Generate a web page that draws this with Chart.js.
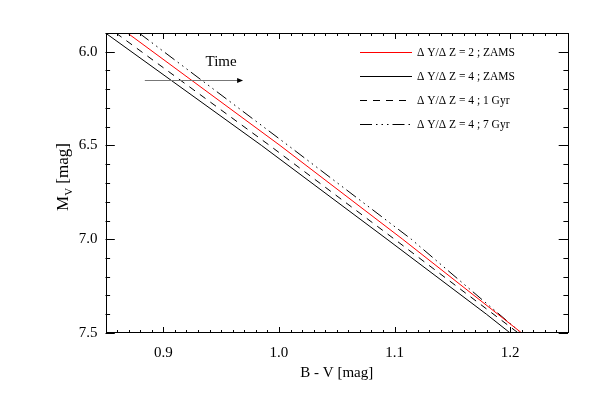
<!DOCTYPE html>
<html><head><meta charset="utf-8">
<script src="https://cdn.jsdelivr.net/npm/chart.js@4"></script>
<style>html,body{margin:0;padding:0;background:#fff;}</style>
</head><body>
<canvas id="c" width="600" height="400"></canvas>
<script>
const xTicks = [0.9, 1.0, 1.1, 1.2];
const yTicks = [6.0, 6.5, 7.0, 7.5];
const seriesLabels = ['\u0394 Y/\u0394 Z = 2 ; ZAMS', '\u0394 Y/\u0394 Z = 4 ; ZAMS', '\u0394 Y/\u0394 Z = 4 ; 1 Gyr', '\u0394 Y/\u0394 Z = 4 ; 7 Gyr'];
const mvZams2 = [5.90, 6.50, 7.00, 7.50];
const bvZams2 = [0.869, 1.001, 1.107, 1.210];
const mvZams4 = [5.90, 6.50, 7.00, 7.40, 7.50];
const bvZams4 = [0.850, 0.985, 1.0935, 1.1795, 1.200];
const mv1Gyr = [5.90, 6.50, 7.00, 7.50];
const bv1Gyr = [0.859, 0.992, 1.100, 1.207];
const mv7Gyr = [5.90, 6.50, 7.00, 7.50];
const bv7Gyr = [0.879, 1.008, 1.1145, 1.2095];
const arrowBV = [0.884, 0.969];
const arrowMV = 6.151;
const timeLabel = 'Time';
const timePos = [0.95, 6.055];

const SERIF = '"Liberation Serif", "DejaVu Serif", "Times New Roman", serif';
const pts = (xs, ys) => xs.map((x, i) => ({x: x, y: ys[i]}));

const datasets = [
  {label: seriesLabels[0], data: pts(bvZams2, mvZams2), borderColor: '#ff0000', borderDash: []},
  {label: seriesLabels[1], data: pts(bvZams4, mvZams4), borderColor: '#000000', borderDash: []},
  {label: seriesLabels[2], data: pts(bv1Gyr, mv1Gyr), borderColor: '#000000', borderDash: [7, 6]},
  {label: seriesLabels[3], data: pts(bv7Gyr, mv7Gyr), borderColor: '#000000', borderDash: [12, 4, 1.5, 4, 1.5, 4, 1.5, 4]}
].map(d => Object.assign(d, {showLine: true, pointRadius: 0, borderWidth: 1, fill: false, tension: 0}));

const decor = {
  id: 'decor',
  afterDatasetsDraw(chart) {
    const ctx = chart.ctx, a = chart.chartArea;
    const xs = chart.scales.x, ys = chart.scales.y;
    ctx.save();
    // frame
    ctx.strokeStyle = '#000'; ctx.lineWidth = 1; ctx.setLineDash([]);
    ctx.strokeRect(Math.round(a.left) + 0.5, Math.round(a.top) + 0.5, Math.round(a.right - a.left) - 1, Math.round(a.bottom - a.top) - 1);
    // ticks
    ctx.beginPath();
    for (let k = 85; k <= 125; k++) {
      const v = k / 100;
      const major = k % 10 === 0;
      const L = major ? 6 : 3;
      const px = Math.round(xs.getPixelForValue(v)) + 0.5;
      ctx.moveTo(px, a.bottom); ctx.lineTo(px, a.bottom - L);
      ctx.moveTo(px, a.top); ctx.lineTo(px, a.top + L);
    }
    for (let k = 59; k <= 75; k++) {
      const v = k / 10;
      const major = k % 5 === 0;
      const L = major ? 9.3 : 4.6;
      const py = Math.round(ys.getPixelForValue(v)) + 0.5;
      ctx.moveTo(a.left, py); ctx.lineTo(a.left + L, py);
      ctx.moveTo(a.right, py); ctx.lineTo(a.right - L, py);
    }
    ctx.stroke();
    // legend
    ctx.font = '11.5px ' + SERIF;
    ctx.textBaseline = 'middle'; ctx.textAlign = 'left';
    chart.data.datasets.forEach((d, i) => {
      const yy = Math.round(51.5 + i * 24) + 0.5;
      ctx.beginPath();
      ctx.strokeStyle = d.borderColor; ctx.setLineDash(d.borderDash);
      ctx.moveTo(360, yy); ctx.lineTo(412, yy); ctx.stroke();
      ctx.setLineDash([]);
      ctx.fillStyle = '#000';
      ctx.fillText(d.label, 417, yy);
    });
    // time arrow
    const x0 = xs.getPixelForValue(arrowBV[0]), x1 = xs.getPixelForValue(arrowBV[1]);
    const ay = Math.round(ys.getPixelForValue(arrowMV)) + 0.5;
    ctx.beginPath(); ctx.strokeStyle = '#777'; ctx.moveTo(x0, ay); ctx.lineTo(x1 - 5, ay); ctx.stroke();
    ctx.beginPath(); ctx.fillStyle = '#000';
    ctx.moveTo(x1, ay); ctx.lineTo(x1 - 6, ay - 2.5); ctx.lineTo(x1 - 6, ay + 2.5); ctx.closePath(); ctx.fill();
    ctx.font = '15px ' + SERIF; ctx.textAlign = 'center';
    ctx.fillText(timeLabel, xs.getPixelForValue(timePos[0]), ys.getPixelForValue(timePos[1]));
    // y title with subscript
    ctx.translate(62.5, 177); ctx.rotate(-Math.PI / 2);
    const f1 = '17px ' + SERIF, f2 = '11px ' + SERIF;
    ctx.font = f1; const wM = ctx.measureText('M').width, wR = ctx.measureText(' [mag]').width;
    ctx.font = f2; const wV = ctx.measureText('V').width;
    let sx = -(wM + wV + wR) / 2;
    ctx.textAlign = 'left'; ctx.textBaseline = 'alphabetic';
    ctx.font = f1; ctx.fillText('M', sx, 5.5); sx += wM;
    ctx.font = f2; ctx.fillText('V', sx, 9); sx += wV;
    ctx.font = f1; ctx.fillText(' [mag]', sx, 5.5);
    ctx.restore();
  }
};

new Chart(document.getElementById('c'), {
  type: 'scatter',
  data: {datasets: datasets},
  options: {
    responsive: false, animation: false, devicePixelRatio: 1,
    layout: {padding: {top: 33, right: 32, left: 0, bottom: 0}},
    plugins: {legend: {display: false}, tooltip: {enabled: false}},
    scales: {
      x: {
        type: 'linear', position: 'bottom', min: 0.85, max: 1.25,
        afterBuildTicks: s => { s.ticks = xTicks.map(v => ({value: v})); },
        afterFit: s => { s.height = 67; },
        ticks: {font: {family: SERIF, size: 15}, color: '#000', padding: 11, maxRotation: 0, autoSkip: false, callback: v => Number(v).toFixed(1)},
        grid: {display: false, drawTicks: false},
        border: {display: false},
        title: {display: true, text: 'B - V [mag]', color: '#000', font: {family: SERIF, size: 15}, padding: {top: 0, bottom: 18}}
      },
      y: {
        type: 'linear', position: 'left', reverse: true, min: 5.9, max: 7.5,
        afterBuildTicks: s => { s.ticks = yTicks.map(v => ({value: v})); },
        afterFit: s => { s.width = 105.5; },
        ticks: {font: {family: SERIF, size: 15}, color: '#000', padding: 8, autoSkip: false, callback: v => Number(v).toFixed(1)},
        grid: {display: false, drawTicks: false},
        border: {display: false}
      }
    }
  },
  plugins: [decor]
});
</script>
</body></html>
